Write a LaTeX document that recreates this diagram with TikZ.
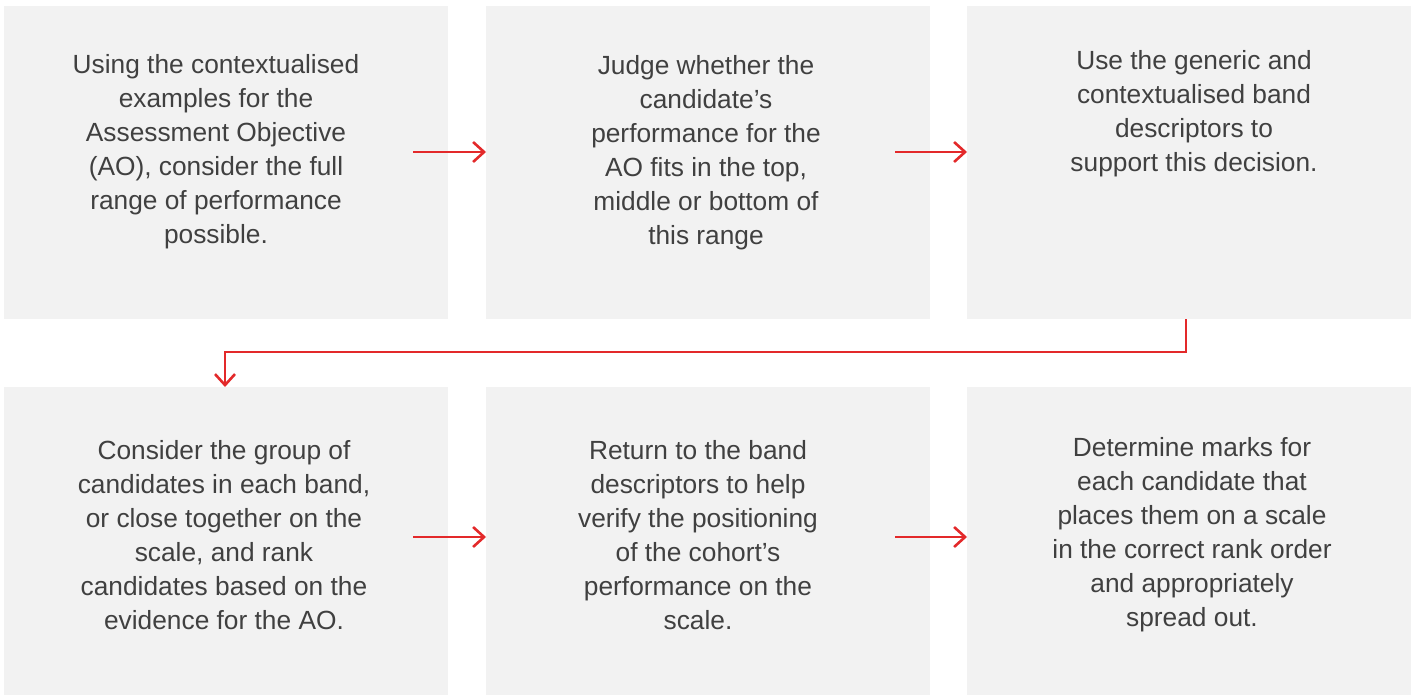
\documentclass[tikz,border=0pt]{standalone}
\usepackage{fontspec}
\setmainfont{Liberation Sans}
\usetikzlibrary{arrows.meta}
\definecolor{boxgray}{HTML}{F2F2F2}
\definecolor{txtgray}{HTML}{404040}
\definecolor{arrowred}{HTML}{E3292A}
\begin{document}
\begin{tikzpicture}[x=1pt,y=-1pt,
  panel/.style={fill=boxgray, draw=none, inner sep=0pt, anchor=north west},
  label/.style={align=center, text=txtgray, font=\fontsize{26.3}{34}\selectfont, inner sep=0pt},
  flow/.style={draw=arrowred, line width=2.6pt, -{Straight Barb[length=11pt,width=20pt,line width=2.6pt]}}
]
\useasboundingbox (0,0) rectangle (1416,695);
% panels
\node[panel, minimum width=444, minimum height=313] (b1) at (4,6) {};
\node[panel, minimum width=444, minimum height=313] (b2) at (486,6) {};
\node[panel, minimum width=444, minimum height=313] (b3) at (967,6) {};
\node[panel, minimum width=444, minimum height=308] (b4) at (4,387) {};
\node[panel, minimum width=444, minimum height=308] (b5) at (486,387) {};
\node[panel, minimum width=444, minimum height=308] (b6) at (967,387) {};
% texts
\node[label] (t1) at (216,152) {Using the contextualised\\examples for the\\Assessment Objective\\(AO), consider the full\\range of performance\\possible.};
\node[label] (t2) at (706,153) {Judge whether the\\candidate’s\\performance for the\\AO fits in the top,\\middle or bottom of\\this range};
\node[label] (t3) at (1194,114) {Use the generic and\\contextualised band\\descriptors to\\support this decision.};
\node[label] (t4) at (224,535) {Consider the group of\\candidates in each band,\\or close together on the\\scale, and rank\\candidates based on the\\evidence for the AO.};
\node[label] (t5) at (698,535) {Return to the band\\descriptors to help\\verify the positioning\\of the cohort’s\\performance on the\\scale.};
\node[label] (t6) at (1192,535) {Determine marks for\\each candidate that\\places them on a scale\\in the correct rank order\\and appropriately\\spread out.};
% connector coordinates
\coordinate (a1s) at (413,152);
\coordinate (a1e) at (486,152);
\coordinate (a2s) at (895,152);
\coordinate (a2e) at (967,152);
\coordinate (a3s) at (1186,319);
\coordinate (a3e) at (225,387);
\coordinate (a4s) at (413,537);
\coordinate (a4e) at (486,537);
\coordinate (a5s) at (895,537);
\coordinate (a5e) at (967,537);
% connectors
\draw[flow] (a1s) -- (a1e);
\draw[flow] (a2s) -- (a2e);
\draw[flow] (a3s) -- (1186,352) -- (225,352) -- (a3e);
\draw[flow] (a4s) -- (a4e);
\draw[flow] (a5s) -- (a5e);
\end{tikzpicture}
\end{document}
